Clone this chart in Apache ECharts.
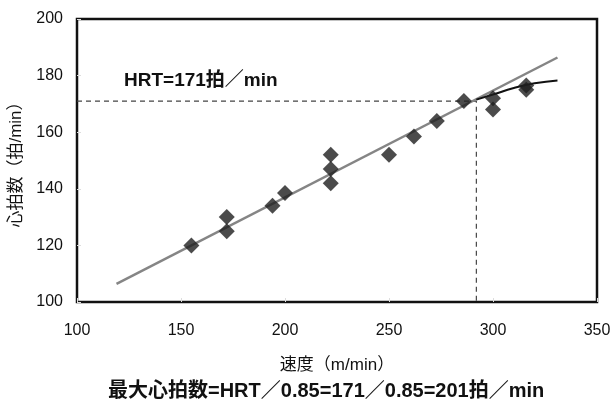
<!DOCTYPE html>
<html><head><meta charset="utf-8">
<script src="https://cdn.jsdelivr.net/npm/echarts@6/dist/echarts.min.js"></script>
<style>html,body{margin:0;padding:0;background:#fff}#c{width:616px;height:399px}</style>
</head><body><div id="c"></div>
<script>
const speeds = [155, 172, 172, 194, 200, 222, 222, 222, 250, 262, 273, 286, 300, 300, 316, 316];
const heartRates = [120, 130, 125, 134, 138.5, 152, 147, 142, 152, 158.5, 164, 171, 172, 168, 176.5, 175];
const regX = [119, 331];
const regY = [106.4, 186.4];
const curveX = [292, 300, 310, 320, 331];
const curveY = [171.5, 173.3, 175.6, 177.3, 178.3];
const hrtSpeed = 292;
const hrtValue = 171;
const xTicks = [100, 350, 50];
const yTicks = [100, 200, 20];

const FONT = '"Liberation Sans","Noto Sans CJK JP",sans-serif';
const chart = echarts.init(document.getElementById('c'));
chart.setOption({
  animation: false,
  backgroundColor: '#fff',
  grid: {left: 77, right: 19, top: 19, bottom: 97, containLabel: false, outerBoundsMode: 'none',
         show: true, borderColor: '#111', borderWidth: 2.5, backgroundColor: 'transparent'},
  title: [
    {text: 'HRT=171拍／min', left: 119, top: 66, textStyle: {fontFamily: FONT, fontSize: 19, fontWeight: 'bold', color: '#111'}},
    {text: '最大心拍数=HRT／0.85=171／0.85=201拍／min', left: 103, top: 376, textStyle: {fontFamily: FONT, fontSize: 20, fontWeight: 'bold', color: '#111'}}
  ],
  xAxis: {
    type: 'value', min: xTicks[0], max: xTicks[1], interval: xTicks[2],
    name: '速度（m/min）', nameLocation: 'middle', nameGap: 55,
    nameTextStyle: {fontFamily: FONT, fontSize: 17, color: '#111'},
    axisLine: {show: false}, axisTick: {show: true, inside: true, length: 4, lineStyle: {color: '#ddd'}},
    splitLine: {show: false},
    axisLabel: {fontFamily: FONT, fontSize: 16, color: '#111', margin: 21}
  },
  yAxis: {
    type: 'value', min: yTicks[0], max: yTicks[1], interval: yTicks[2],
    name: '心拍数（拍/min）', nameLocation: 'middle', nameGap: 52, nameRotate: 90,
    nameTextStyle: {fontFamily: FONT, fontSize: 17, color: '#111'},
    axisLine: {show: false}, axisTick: {show: true, inside: true, length: 4, lineStyle: {color: '#ddd'}},
    splitLine: {show: false},
    axisLabel: {fontFamily: FONT, fontSize: 16, color: '#111', margin: 14}
  },
  series: [
    {type: 'line', data: [[0, hrtValue], [hrtSpeed, hrtValue], [hrtSpeed, 0]].map(p => [Math.max(p[0], xTicks[0]), Math.max(p[1], yTicks[0])]),
     symbol: 'none', lineStyle: {color: '#444', width: 1.2, type: [5, 4]}, z: 1},
    {type: 'line', data: regX.map((x, i) => [x, regY[i]]), symbol: 'none', lineStyle: {color: '#858585', width: 2.5}, z: 2},
    {type: 'line', data: curveX.map((x, i) => [x, curveY[i]]), symbol: 'none', smooth: true, lineStyle: {color: '#111', width: 2}, z: 3},
    {type: 'scatter', data: speeds.map((x, i) => [x, heartRates[i]]), symbol: 'diamond', symbolSize: [16, 16],
     itemStyle: {color: '#1e1e1e'}, z: 4}
  ]
});
</script></body></html>
